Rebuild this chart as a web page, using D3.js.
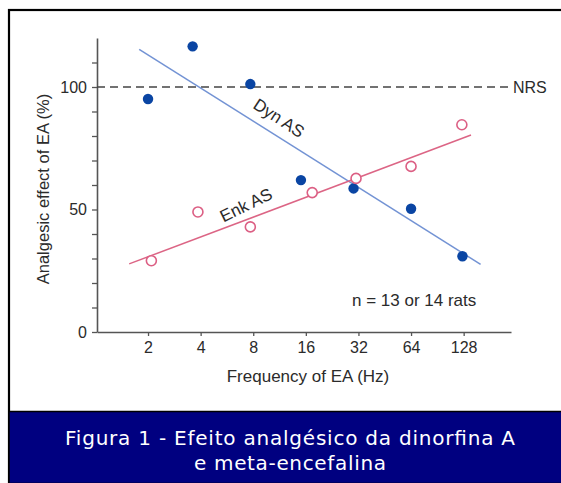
<!DOCTYPE html>
<html><head><meta charset="utf-8">
<script src="https://cdn.jsdelivr.net/npm/d3@7"></script>
<style>body{margin:0;background:#fff}svg{display:block}</style>
</head><body>
<script>
// ---- data ----
const xTicks = [2, 4, 8, 16, 32, 64, 128];
const yTickLabels = [0, 50, 100];
const yMinorTicks = [0,10,20,30,40,50,60,70,80,90,100,110];
const dynFreq = [2, 3.6, 7.7, 15, 30, 64, 126];
const dynVal  = [95.1, 116.6, 101.2, 62.0, 58.6, 50.3, 30.9];
const enkFreq = [2.09, 3.86, 7.7, 17.4, 31, 64, 125];
const enkVal  = [29.1, 49, 42.9, 56.9, 62.7, 67.6, 84.6];
const dynFitFreq = [1.78, 160];
const dynFitVal  = [115.4, 27.6];
const enkFitFreq = [1.56, 141];
const enkFitVal  = [27.8, 80.4];
const nrsValue = 100;
const caption = ["Figura 1 - Efeito analgésico da dinorfina A", "e meta-encefalina"];

const W = 561, H = 483;
const svg = d3.select("body").append("svg").attr("width", W).attr("height", H);

// frame
svg.append("rect").attr("x", 9).attr("y", 10).attr("width", W).attr("height", H)
  .attr("fill", "#fff").attr("stroke", "#000").attr("stroke-width", 2.2);
svg.append("rect").attr("x", 9).attr("y", 411.5).attr("width", W).attr("height", H - 411)
  .attr("fill", "#000080").attr("stroke", "#000").attr("stroke-width", 1.5);

const x = d3.scaleLog().base(2).domain([Math.pow(2, 0.03), Math.pow(2, 7.9)]).range([97, 511]);
const y = d3.scaleLinear().domain([0, 120]).range([332, 38]);

const axisColor = "#555";
const txt = "#2b2b2b";
const font = "'Liberation Sans', Arial, sans-serif";

// y axis
const yAxis = svg.append("g").attr("transform", "translate(97,0)")
  .call(d3.axisLeft(y).tickValues(yMinorTicks).tickFormat(d => yTickLabels.includes(d) ? d : "").tickSize(5).tickSizeOuter(0));
yAxis.select(".domain").attr("stroke", axisColor).attr("stroke-width", 1.6);
yAxis.selectAll(".tick line").attr("stroke", axisColor).attr("stroke-width", 1.3);
yAxis.selectAll(".tick text").attr("font-family", font).attr("font-size", 16).attr("fill", txt).attr("dx", -2);

// x axis
const xAxis = svg.append("g").attr("transform", "translate(0,332)")
  .call(d3.axisBottom(x).tickValues(xTicks).tickFormat(d3.format("d")).tickSize(4).tickSizeOuter(0));
xAxis.select(".domain").attr("stroke", axisColor).attr("stroke-width", 1.6);
xAxis.selectAll(".tick line").attr("stroke", axisColor).attr("stroke-width", 1.3);
xAxis.selectAll(".tick text").attr("font-family", font).attr("font-size", 16).attr("fill", txt).attr("dy", "0.85em");

// axis labels
svg.append("text").attr("x", 308).attr("y", 382).attr("text-anchor", "middle")
  .attr("font-family", font).attr("font-size", 17).attr("fill", txt).text("Frequency of EA (Hz)");
svg.append("text").attr("transform", "translate(49,189) rotate(-90)").attr("text-anchor", "middle")
  .attr("font-family", font).attr("font-size", 16.5).attr("fill", txt).text("Analgesic effect of EA (%)");

// NRS line
svg.append("line").attr("x1", 97).attr("x2", 512).attr("y1", y(nrsValue)).attr("y2", y(nrsValue))
  .attr("stroke", "#444").attr("stroke-width", 1.6).attr("stroke-dasharray", "8,5");
svg.append("text").attr("x", 513).attr("y", y(nrsValue)).attr("dy", "0.35em")
  .attr("font-family", font).attr("font-size", 16).attr("fill", txt).text("NRS");

// fit lines
const line = d3.line().x(d => x(d[0])).y(d => y(d[1]));
svg.append("path").datum(dynFitFreq.map((f, i) => [f, dynFitVal[i]]))
  .attr("d", line).attr("fill", "none").attr("stroke", "#7393d4").attr("stroke-width", 1.5);
svg.append("path").datum(enkFitFreq.map((f, i) => [f, enkFitVal[i]]))
  .attr("d", line).attr("fill", "none").attr("stroke", "#dc6585").attr("stroke-width", 1.5);

// points
svg.selectAll(".dyn").data(dynFreq.map((f, i) => [f, dynVal[i]])).enter().append("circle")
  .attr("cx", d => x(d[0])).attr("cy", d => y(d[1])).attr("r", 5.2).attr("fill", "#0a45a3");
svg.selectAll(".enk").data(enkFreq.map((f, i) => [f, enkVal[i]])).enter().append("circle")
  .attr("cx", d => x(d[0])).attr("cy", d => y(d[1])).attr("r", 5).attr("fill", "#fff")
  .attr("stroke", "#dc5f84").attr("stroke-width", 1.6);

// series labels
svg.append("text").attr("transform", "translate(279,118) rotate(33)").attr("text-anchor", "middle")
  .attr("dy", "0.35em").attr("font-family", font).attr("font-size", 17).attr("fill", txt).text("Dyn AS");
svg.append("text").attr("transform", "translate(246,205) rotate(-26)").attr("text-anchor", "middle")
  .attr("dy", "0.35em").attr("font-family", font).attr("font-size", 17).attr("fill", txt).text("Enk AS");
svg.append("text").attr("x", 352).attr("y", 306)
  .attr("font-family", font).attr("font-size", 17).attr("fill", txt).text("n = 13 or 14 rats");

// caption
const capLen = [450, 192];
svg.selectAll(".cap").data(caption).enter().append("text")
  .attr("x", 290).attr("y", (d, i) => 445 + i * 25).attr("text-anchor", "middle")
  .attr("textLength", (d, i) => capLen[i]).attr("lengthAdjust", "spacing")
  .attr("font-family", "'DejaVu Sans', Verdana, sans-serif").attr("font-size", 20).attr("fill", "#fff").text(d => d);
</script>
</body></html>
